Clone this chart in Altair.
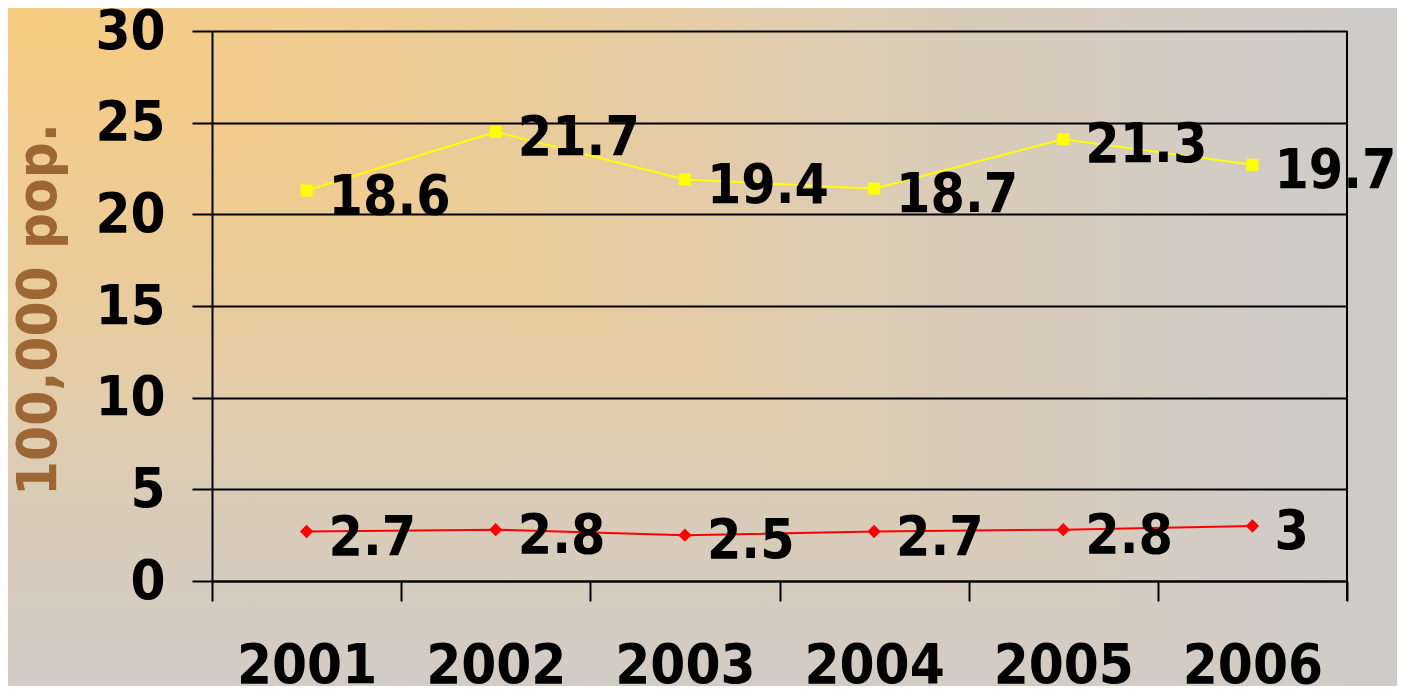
import altair as alt
import pandas as pd

# ---- data ----
years = ["2001", "2002", "2003", "2004", "2005", "2006"]
red_values = [2.7, 2.8, 2.5, 2.7, 2.8, 3.0]          # lower (red) series
yellow_values = [18.6, 21.7, 19.4, 18.7, 21.3, 19.7]  # upper (yellow) series, stacked on red
y_ticks = [0, 5, 10, 15, 20, 25, 30]
y_title = "100,000 pop."

df = pd.DataFrame({"year": years, "red": red_values, "yellow": yellow_values})

FONT = "DejaVu Sans Condensed"
FS = 56
W, H = 1135, 550
PAD = {"left": 204, "top": 23, "right": 50, "bottom": 105}

base = alt.Chart(df).transform_calculate(total="datum.red + datum.yellow")

x_enc = alt.X(
    "year:N", sort=years,
    scale=alt.Scale(type="band", paddingInner=0, paddingOuter=0),
    axis=alt.Axis(
        title=None, tickBand="extent", labelAngle=0,
        labelFont=FONT, labelFontSize=FS, labelFontWeight="bold", labelColor="black",
        labelPadding=37, tickSize=20, tickColor="black", tickWidth=2,
        domainColor="black", domainWidth=2, grid=False, zindex=1,
    ),
)

y_scale = alt.Scale(domain=[0, 30], nice=False, zero=True)
y_axis = alt.Axis(
    values=y_ticks, title=y_title,
    titleFont=FONT, titleFontSize=FS, titleFontWeight="bold", titleColor="#9C6635",
    titleAngle=270, titleBaseline="alphabetic", titleAlign="center",
    titleX=-157, titleY=278,
    labelFont=FONT, labelFontSize=FS, labelFontWeight="bold", labelColor="black",
    labelPadding=27, tickSize=20, tickColor="black", tickWidth=2,
    domainColor="black", domainWidth=2,
    grid=True, gridColor="black", gridWidth=2, zindex=1,
)
y_red = alt.Y("red:Q", scale=y_scale, axis=y_axis)
y_tot = alt.Y("total:Q", scale=y_scale, axis=y_axis)

# ---- "from corner" background gradient (decoration) ----
stops = [
    alt.GradientStop(offset=0, color="#F8CC80"),
    alt.GradientStop(offset=0.4, color="#E9CC9C"),
    alt.GradientStop(offset=0.61, color="#DDCDB4"),
    alt.GradientStop(offset=0.68, color="#D9CBB8"),
    alt.GradientStop(offset=0.85, color="#D4CCC3"),
    alt.GradientStop(offset=0.96, color="#CECCC9"),
    alt.GradientStop(offset=1, color="#CDCCCA"),
]
grad_h = alt.Gradient(gradient="linear", x1=0, y1=0, x2=1, y2=0, stops=stops)
grad_v = alt.Gradient(gradient="linear", x1=0, y1=0, x2=0, y2=1, stops=stops)

GW, GH = 1405, 760          # gradient box (page pixels), origin at page corner
OX, OY = -212, -31          # page corner in plot coordinates

bg = alt.Chart(alt.Data(values=[{}])).mark_rect(fill=grad_h, strokeWidth=0).encode(
    x=alt.value(OX), x2=alt.value(OX + GW),
    y=alt.value(OY), y2=alt.value(OY + GH),
)
ry = (GH / 2) / (GW / 2)
tri_path = f"M -1 -{ry:.4f} L -1 {ry:.4f} L 1 {ry:.4f} Z"
bg_tri = alt.Chart(alt.Data(values=[{}])).mark_point(
    shape=tri_path, filled=True, fill=grad_v, strokeWidth=0, strokeOpacity=0,
    opacity=1, size=GW * GW,
).encode(x=alt.value(OX + GW / 2), y=alt.value(OY + GH / 2))

right_border = alt.Chart(alt.Data(values=[{}])).mark_rule(color="black", strokeWidth=2).encode(
    x=alt.value(W), y=alt.value(0), y2=alt.value(H + 20)
)

red_line = base.mark_line(color="#FF0000", strokeWidth=2).encode(x=x_enc, y=y_red)
red_pts = base.mark_point(shape="diamond", filled=True, color="#FF0000", size=180, opacity=1).encode(x=x_enc, y=y_red)
yel_line = base.mark_line(color="#FFFF00", strokeWidth=2).encode(x=x_enc, y=y_tot)
yel_pts = base.mark_point(shape="square", filled=True, color="#FFFF00", size=144, opacity=1).encode(x=x_enc, y=y_tot)

txt_kw = dict(align="left", baseline="middle", dx=22, dy=6, font=FONT, fontSize=55,
              fontWeight="bold", color="black")
red_txt = base.mark_text(**txt_kw).encode(x=x_enc, y=y_red, text="red:Q")
yel_txt = base.mark_text(**txt_kw).encode(x=x_enc, y=y_tot, text="yellow:Q")

chart = alt.layer(
    bg, bg_tri, red_line, yel_line, red_pts, yel_pts, red_txt, yel_txt, right_border
).properties(
    width=W, height=H, padding=PAD,
    autosize=alt.AutoSizeParams(type="none"),
    background="#CDCCCA",
).configure_view(stroke=None)

chart.save("out.html", embed_options={"renderer": "svg", "actions": False})
